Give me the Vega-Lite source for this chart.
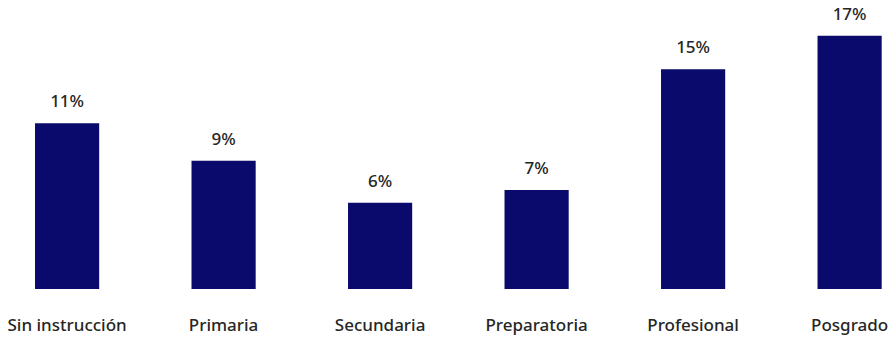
{
  "$schema": "https://vega.github.io/schema/vega-lite/v6.json",
  "width": 891,
  "height": 289,
  "autosize": "none",
  "padding": {"left": 0, "top": 0, "right": 0, "bottom": 48},
  "background": "white",
  "config": {"view": {"stroke": null}, "font": "Noto Sans"},
  "data": {
    "values": [
      {"nivel": "Sin instrucción", "pct": 11.31},
      {"nivel": "Primaria", "pct": 8.76},
      {"nivel": "Secundaria", "pct": 5.89},
      {"nivel": "Preparatoria", "pct": 6.76},
      {"nivel": "Profesional", "pct": 15.0},
      {"nivel": "Posgrado", "pct": 17.29}
    ]
  },
  "transform": [{"calculate": "format(datum.pct, '.0f') + '%'", "as": "etiqueta"}],
  "encoding": {
    "x": {
      "field": "nivel",
      "type": "nominal",
      "sort": null,
      "scale": {"paddingInner": 0.59, "paddingOuter": 0.1416, "align": 0.79},
      "axis": {
        "title": null,
        "domain": false,
        "ticks": false,
        "labelAngle": 0,
        "labelFont": "Noto Sans",
        "labelFontSize": 17,
        "labelFontWeight": 500,
        "labelColor": "#262626",
        "labelBaseline": "alphabetic",
        "labelPadding": 41
      }
    },
    "y": {
      "field": "pct",
      "type": "quantitative",
      "scale": {"domain": [0, 19.73], "nice": false},
      "axis": null
    }
  },
  "layer": [
    {"mark": {"type": "bar", "color": "#0a0a6c"}},
    {
      "mark": {"type": "text", "baseline": "alphabetic", "dy": -16, "fontSize": 17, "fontWeight": 500, "font": "Noto Sans", "color": "#262626"},
      "encoding": {"text": {"field": "etiqueta", "type": "nominal"}}
    }
  ]
}
